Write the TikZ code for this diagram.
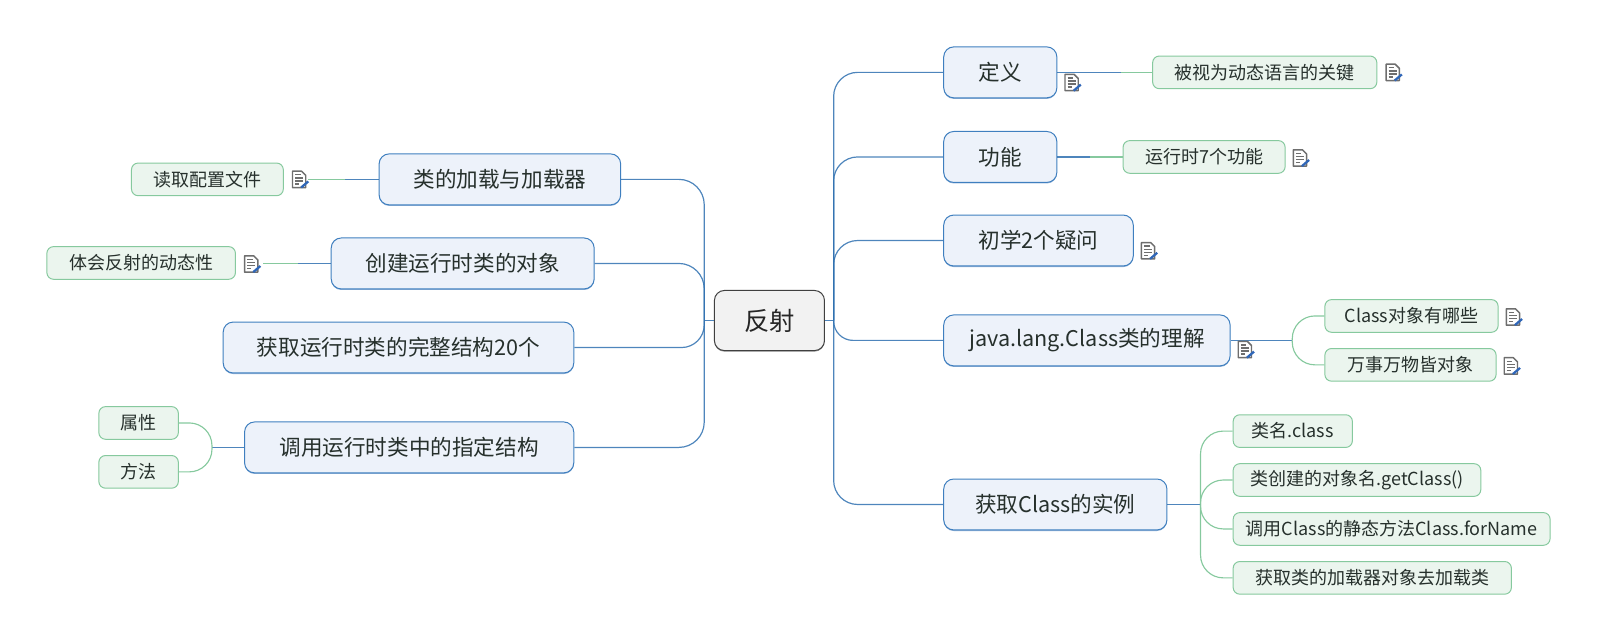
\documentclass[tikz,border=0pt]{standalone}
\usepackage{fontspec}
\setmainfont{Noto Sans CJK SC}
\usetikzlibrary{shadows}
\definecolor{mainfill}{HTML}{EDF2FA}
\definecolor{mainline}{HTML}{3F7FBF}
\definecolor{mainshadow}{HTML}{8FB0D6}
\definecolor{subfill}{HTML}{EBF5EE}
\definecolor{subline}{HTML}{86C99E}
\definecolor{rootfill}{HTML}{F2F2F2}
\definecolor{rootline}{HTML}{404040}
\definecolor{inktext}{HTML}{26302C}
\definecolor{bluelink}{HTML}{2F70B0}
\definecolor{greenlink}{HTML}{86C99E}
\definecolor{iconline}{HTML}{6E6E6E}
\definecolor{iconpen}{HTML}{2F66B8}
\tikzset{
  x=0.7644pt, y=-0.7644pt,
  wd/.style={minimum width=#1*0.7644pt},
  rootbox/.style={draw=rootline, fill=rootfill, line width=0.75pt, rounded corners=7.5pt,
    minimum width=82.55pt, minimum height=45.1pt, inner sep=0pt, text=black!85, font=\fontsize{19pt}{20pt}\selectfont,
    general shadow={shadow yshift=-0.8pt, fill=black!40}},
  mainbox/.style={draw=mainline, fill=mainfill, line width=0.75pt, rounded corners=7.5pt,
    minimum height=38.2pt, inner sep=0pt, text=inktext, font=\fontsize{16.2pt}{18pt}\selectfont,
    general shadow={shadow yshift=-0.8pt, fill=mainshadow}},
  subbox/.style={draw=subline, fill=subfill, line width=0.75pt, rounded corners=5pt,
    minimum height=24.5pt, inner sep=0pt, text=inktext, font=\fontsize{13.5pt}{15pt}\selectfont},
  bluecurve/.style={draw=bluelink, line width=0.9pt, draw opacity=0.85},
  greencurve/.style={draw=greenlink, line width=0.85pt},
  noteicon/.pic={
    \draw[iconline, line width=1.1pt, fill=white, line join=round]
      (-7,-8) -- (2,-8) -- (6,-4) -- (6,8) -- (-7,8) -- cycle;
    \draw[iconline, line width=1pt]
      (-4.5,-4.5) -- (1,-4.5) (-4.5,-1.5) -- (3.5,-1.5) (-4.5,1.5) -- (3.5,1.5) (-4.5,4.5) -- (-0.5,4.5);
    \draw[iconpen, line width=1.7pt] (1.5,8) -- (8.5,2);
  }
}
\begin{document}
\begin{tikzpicture}
\useasboundingbox (0,0) rectangle (1568,630);
% nodes
\node[rootbox] (root) at (755,314.5) {反射};
\node[mainbox,wd=111] (def) at (981.5,71) {定义};
\node[mainbox,wd=111] (func) at (981.5,154) {功能};
\node[mainbox,wd=186] (first) at (1019,236) {初学2个疑问};
\node[mainbox,wd=281] (jlc) at (1066.5,334) {java.lang.Class类的理解};
\node[mainbox,wd=219] (inst) at (1035.5,495) {获取Class的实例};
\node[mainbox,wd=237] (load) at (490.5,176) {类的加载与加载器};
\node[mainbox,wd=258] (create) at (454,258.5) {创建运行时类的对象};
\node[mainbox,wd=344] (full) at (391,341) {获取运行时类的完整结构20个};
\node[mainbox,wd=323] (call) at (401.5,439) {调用运行时类中的指定结构};
\node[subbox,wd=220] (key) at (1241,71) {被视为动态语言的关键};
\node[subbox,wd=159] (seven) at (1181.5,154) {运行时7个功能};
\node[subbox,wd=170] (which) at (1385,310) {Class对象有哪些};
\node[subbox,wd=168] (all) at (1384,358) {万事万物皆对象};
\node[subbox,wd=117] (cn) at (1268.5,423) {类名.class};
\node[subbox,wd=243] (gc) at (1331.5,471) {类创建的对象名.getClass()};
\node[subbox,wd=311] (fn) at (1365.5,519) {调用Class的静态方法Class.forName};
\node[subbox,wd=273] (cl) at (1346.5,567) {获取类的加载器对象去加载类};
\node[subbox,wd=149] (cfg) at (203.5,176) {读取配置文件};
\node[subbox,wd=185] (dyn) at (138.5,258) {体会反射的动态性};
\node[subbox,wd=78] (attr) at (136,415) {属性};
\node[subbox,wd=78] (meth) at (136,463) {方法};
% junctions
\coordinate (rt) at (818,314.5);
\coordinate (lt) at (691,314.5);
\coordinate (jd) at (1100,71);
\coordinate (jf) at (1070,154);
\coordinate (jj) at (1268,334);
\coordinate (ji) at (1178,495);
\coordinate (jl) at (339,176);
\coordinate (jle) at (302,176);
\coordinate (jc) at (292,258.5);
\coordinate (jce) at (258,258.5);
\coordinate (jm) at (208,439);
% root trunks
\draw[bluecurve] (root.east) -- (rt);
\draw[bluecurve] (root.west) -- (lt);
\draw[bluecurve,rounded corners=18pt] (rt) |- (def.west);
\draw[bluecurve,rounded corners=18pt] (rt) |- (func.west);
\draw[bluecurve,rounded corners=18pt] (rt) |- (first.west);
\draw[bluecurve,rounded corners=14.5pt] (rt) |- (jlc.west);
\draw[bluecurve,rounded corners=18pt] (rt) |- (inst.west);
\draw[bluecurve,rounded corners=19pt] (lt) |- (load.east);
\draw[bluecurve,rounded corners=19pt] (lt) |- (create.east);
\draw[bluecurve,rounded corners=17pt] (lt) |- (full.east);
\draw[bluecurve,rounded corners=19pt] (lt) |- (call.east);
% branches
\draw[bluecurve] (def.east) -- (jd);
\draw[greencurve] (jd) -- (key.west);
\draw[bluecurve] (func.east) -- (jf);
\draw[greencurve] (jf) -- (seven.west);
\draw[bluecurve] (jlc.east) -- (jj);
\draw[greencurve,rounded corners=17pt] (jj) |- (which.west);
\draw[greencurve,rounded corners=17pt] (jj) |- (all.west);
\draw[bluecurve] (inst.east) -- (ji);
\draw[greencurve,rounded corners=17pt] (ji) |- (cn.west);
\draw[greencurve,rounded corners=17pt] (ji) |- (gc.west);
\draw[greencurve,rounded corners=17pt] (ji) |- (fn.west);
\draw[greencurve,rounded corners=17pt] (ji) |- (cl.west);
\draw[bluecurve] (load.west) -- (jl);
\draw[greencurve] (jl) -- (jle);
\draw[bluecurve] (create.west) -- (jc);
\draw[greencurve] (jc) -- (jce);
\draw[bluecurve] (call.west) -- (jm);
\draw[greencurve,rounded corners=17pt] (jm) |- (attr.east);
\draw[greencurve,rounded corners=17pt] (jm) |- (meth.east);
% note icons
\foreach \px/\py in {1052/81,1367/71,1276/155,1127/246,1222/343,1485/311,1483/359,294/176,247/259}
  \pic at (\px,\py) {noteicon};
\end{tikzpicture}
\end{document}
